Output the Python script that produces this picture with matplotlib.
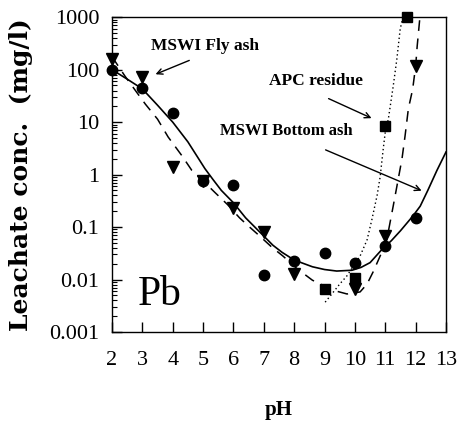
import matplotlib
matplotlib.use("Agg")
import matplotlib.pyplot as plt
from matplotlib.ticker import FixedLocator, FixedFormatter, LogLocator, NullFormatter

plt.rcParams['font.family'] = ['Liberation Serif', 'DejaVu Serif']

# measured points
ph = [2, 3, 4, 5, 6, 7, 8, 9, 10, 11, 12]
bottom_ash = [97, 44, 15, 0.77, 0.645, 0.0123, 0.0228, 0.0315, 0.0206, 0.044, 0.148]

ph_fly = [2, 3, 4, 5, 6, 7, 8, 10, 11, 12]
fly_ash = [158, 71, 1.39, 0.75, 0.235, 0.08, 0.0129, 0.0066, 0.067, 117]

ph_apc = [9, 10, 11, 11.72]
apc = [0.0066, 0.0107, 8.4, 1000]

# fitted curves
ph_bottom_fit = [2.0, 2.5, 3.0, 3.5, 4.0, 4.5, 5.06, 5.33, 5.6, 6.0, 6.4, 6.87, 7.3, 7.6,
                 8.0, 8.6, 9.0, 9.4, 9.9, 10.2, 10.5, 10.9, 11.2, 11.5, 11.9, 12.15, 12.4,
                 12.7, 13.0]
bottom_fit = [100, 66, 43, 21, 10, 4.2, 1.3, 0.8, 0.5, 0.29, 0.15, 0.08, 0.045, 0.033,
              0.0235, 0.0175, 0.0155, 0.0145, 0.015, 0.017, 0.021, 0.038, 0.055, 0.085,
              0.16, 0.25, 0.5, 1.2, 2.7]

ph_fly_fit = [2.0, 2.1, 2.43, 2.8, 3.1, 3.5, 3.85, 4.3, 4.63, 4.96, 5.4, 5.8, 6.2, 6.45, 6.87,
              7.25, 7.63, 8.1, 8.6, 9.3, 9.74, 10.17, 10.4, 10.6, 10.83, 11.05, 11.26, 11.38,
              11.55, 11.65, 11.76, 11.9, 12.0, 12.05, 12.14]
fly_fit = [175, 145, 75, 38, 22, 11.4, 5.2, 2.3, 1.2, 0.8, 0.45, 0.27, 0.15, 0.11, 0.067,
           0.042, 0.028, 0.016, 0.0097, 0.0062, 0.0053, 0.0058, 0.0082, 0.014, 0.028, 0.058,
           0.25, 0.59, 2.0, 5.4, 18, 42, 117, 280, 1000]

ph_apc_fit = [9.02, 9.24, 9.5, 9.74, 10.0, 10.17, 10.4, 10.56, 10.73, 10.83, 10.93, 11.0,
              11.1, 11.26, 11.38, 11.49, 11.58]
apc_fit = [0.0037, 0.0053, 0.0082, 0.0118, 0.02, 0.028, 0.057, 0.14, 0.4, 0.9, 3.0, 6.5,
           11.4, 48, 158, 590, 1000]

yticks = [0.001, 0.01, 0.1, 1, 10, 100, 1000]
ytick_labels = ['0.001', '0.01', '0.1', '1', '10', '100', '1000']

fig = plt.figure(figsize=(4.57, 4.26), dpi=100)
ax = fig.add_axes([0.245, 0.2207, 0.731, 0.739])

ax.plot(ph_bottom_fit, bottom_fit, '-', color='black', lw=1.2)
ax.plot(ph_fly_fit, fly_fit, color='black', lw=1.1, dashes=(7, 5))
ax.plot(ph_apc_fit, apc_fit, ':', color='black', lw=1.0, dashes=(1, 2))

ax.plot(ph, bottom_ash, 'o', color='black', ms=7.5, clip_on=False)
ax.plot(ph_fly, fly_ash, 'v', color='black', ms=8, clip_on=False)
ax.plot(ph_apc, apc, 's', color='black', ms=6.5, clip_on=False)

ax.set_yscale('log')
ax.set_xlim(2, 13)
ax.set_ylim(0.001, 1000)
ax.set_xticks(range(2, 14))
ax.yaxis.set_major_locator(FixedLocator(yticks))
ax.yaxis.set_major_formatter(FixedFormatter(ytick_labels))
ax.yaxis.set_minor_locator(LogLocator(base=10, subs=range(2, 10), numticks=20))
ax.yaxis.set_minor_formatter(NullFormatter())

ax.tick_params(axis='both', which='major', direction='in', length=7, width=1,
               labelsize=16, top=False, right=False)
ax.tick_params(axis='y', which='minor', direction='in', length=3.5, width=0.8, right=False)
ax.tick_params(axis='x', pad=14)
ax.tick_params(axis='y', pad=9)
for s in ax.spines.values():
    s.set_linewidth(1)

ax.set_xlabel('pH', fontsize=15, fontweight='bold')
ax.xaxis.set_label_coords(0.5, -0.215)
ax.set_ylabel('Leachate conc.  (mg/l)', fontsize=18, fontweight='bold', family='DejaVu Serif')
ax.yaxis.set_label_coords(-0.236, 0.5)

ax.text(2.85, 0.0032, 'Pb', fontsize=30)

arrow = dict(arrowstyle='->', color='black', lw=1.0)
ax.text(3.3, 279, 'MSWI Fly ash', fontsize=12.5, fontweight='bold', va='center')
ax.annotate('', xy=(3.35, 78), xytext=(4.63, 157), arrowprops=arrow)
ax.text(7.17, 59.5, 'APC residue', fontsize=12.5, fontweight='bold', va='center')
ax.annotate('', xy=(10.63, 11.3), xytext=(9.05, 29.5), arrowprops=arrow)
ax.text(5.55, 6.9, 'MSWI Bottom ash', fontsize=12, fontweight='bold', va='center')
ax.annotate('', xy=(12.28, 0.47), xytext=(8.95, 3.1), arrowprops=arrow)

fig.savefig('out.png', dpi=100)
